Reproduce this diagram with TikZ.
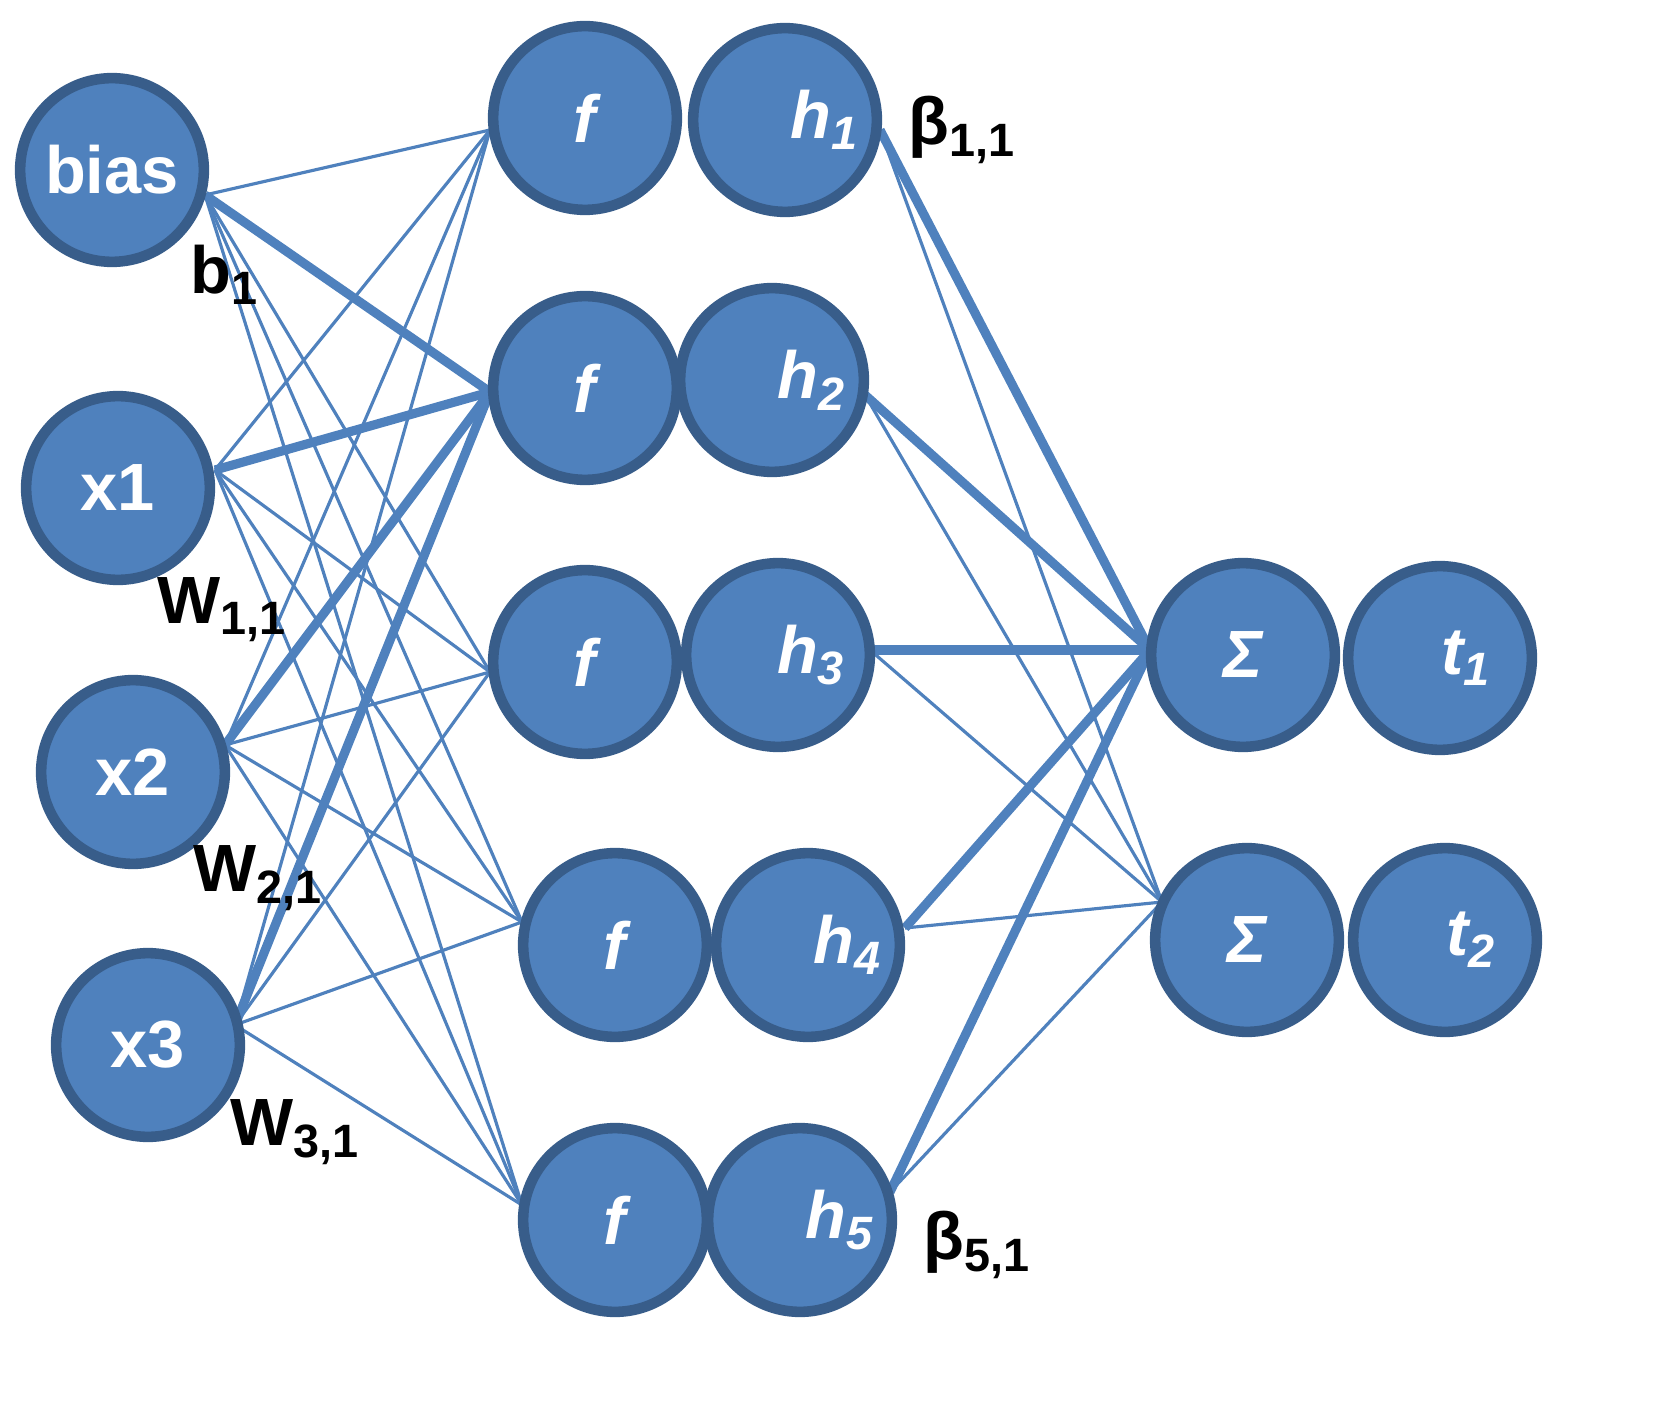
\documentclass[tikz,border=0pt]{standalone}
\usepackage{fontspec}
\setmainfont{Liberation Sans}
\begin{document}
\begin{tikzpicture}[x=0.01cm,y=-0.01cm,
  nd/.style={circle,fill=nodefill,draw=nodeedge,line width=3pt,minimum size=1.836cm,inner sep=0pt,text=white,font=\fontsize{19}{21}\selectfont\bfseries},
  thin/.style={draw=linecol,line width=0.9pt},
  thick/.style={draw=linecol,line width=2.6pt},
  lab/.style={font=\fontsize{19}{21}\selectfont\bfseries,text=black}]
\definecolor{nodefill}{HTML}{4F81BD}
\definecolor{nodeedge}{HTML}{385D8A}
\definecolor{linecol}{HTML}{4F81BD}
\useasboundingbox (0,0) rectangle (1655,1425);
% coordinates
\coordinate (bR) at (205,195); \coordinate (x1R) at (215,470);
\coordinate (x2R) at (225,745); \coordinate (x3R) at (235,1025);
\coordinate (f1L) at (490,130); \coordinate (f2L) at (490,392);
\coordinate (f3L) at (490,672); \coordinate (f4L) at (522,922);
\coordinate (f5L) at (522,1205);
\coordinate (h1R) at (880,130); \coordinate (h2R) at (865,395);
\coordinate (h3R) at (870,650); \coordinate (h4R) at (905,928);
\coordinate (h5R) at (890,1192);
\coordinate (s1L) at (1150,650); \coordinate (s2L) at (1162,902);
% connections
\foreach \i in {bR,x1R,x2R,x3R}{
  \foreach \j in {f1L,f3L,f4L,f5L}{\draw[thin] (\i) -- (\j);}
  \draw[thick] (\i) -- (f2L);}
\foreach \i in {h1R,h2R,h3R,h4R,h5R}{
  \draw[thick] (\i) -- (s1L);
  \draw[thin] (\i) -- (s2L);}
% nodes
\node[nd] (bias) at (112,170) {bias};
\node[nd] (x1) at (118,488) {x1};
\node[nd] (x2) at (133,772) {x2};
\node[nd] (x3) at (148,1045) {x3};
\node[nd] (f1) at (585,118) {\itshape f};
\node[nd] (h1) at (785,120) {\hspace*{1.2em}\itshape h\textsubscript{1}};
\node[nd] (f2) at (585,388) {\itshape f};
\node[nd] (h2) at (772,380) {\hspace*{1.2em}\itshape h\textsubscript{2}};
\node[nd] (f3) at (585,662) {\itshape f};
\node[nd] (h3) at (778,655) {\hspace*{1em}\itshape h\textsubscript{3}};
\node[nd] (f4) at (615,945) {\itshape f};
\node[nd] (h4) at (808,945) {\hspace*{1.2em}\itshape h\textsubscript{4}};
\node[nd] (f5) at (615,1220) {\itshape f};
\node[nd] (h5) at (800,1220) {\hspace*{1.2em}\itshape h\textsubscript{5}};
\node[nd] (s1) at (1243,655) {\itshape Σ};
\node[nd] (t1) at (1440,658) {\hspace*{0.8em}\itshape t\textsubscript{1}};
\node[nd] (s2) at (1247,940) {\itshape Σ};
\node[nd] (t2) at (1445,940) {\hspace*{0.8em}\itshape t\textsubscript{2}};
% labels
\node[lab] (lb) at (225,275) {b\textsubscript{1}};
\node[lab] (lw1) at (222,610) {W\textsubscript{1,1}};
\node[lab] (lw2) at (258,878) {W\textsubscript{2,1}};
\node[lab] (lw3) at (295,1132) {W\textsubscript{3,1}};
\node[lab] (lb1) at (962,130) {β\textsubscript{1,1}};
\node[lab] (lb5) at (977,1245) {β\textsubscript{5,1}};
\end{tikzpicture}
\end{document}
